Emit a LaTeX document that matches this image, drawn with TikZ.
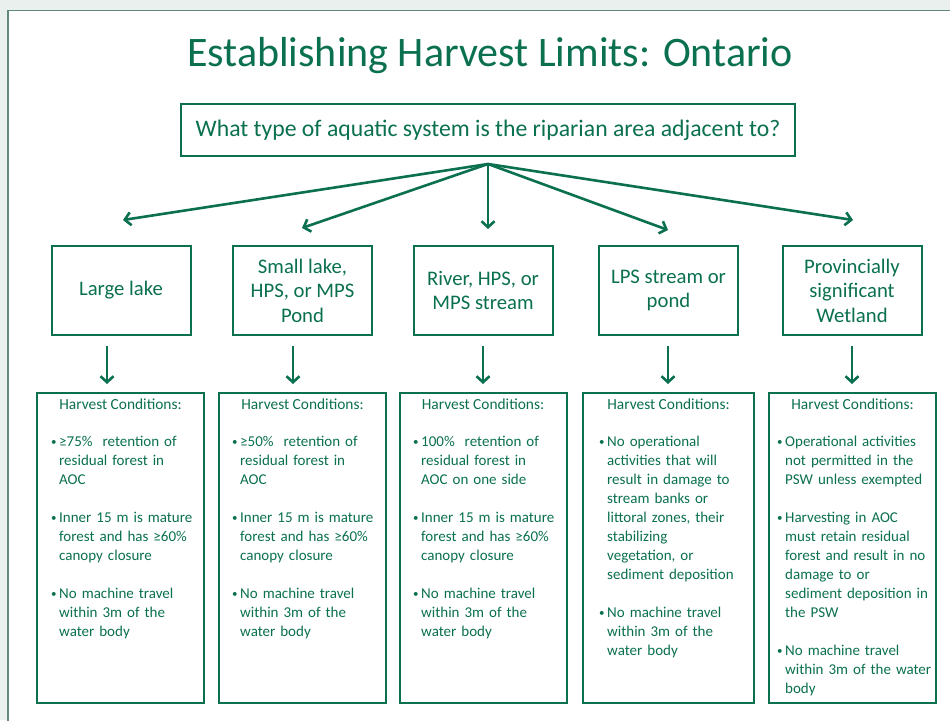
\documentclass[tikz,border=0pt]{standalone}
\usepackage{fontspec}
\setmainfont{Carlito}
\usetikzlibrary{arrows.meta}
\definecolor{grn}{RGB}{10,112,80}
\definecolor{bgc}{RGB}{234,240,237}
\definecolor{frm}{RGB}{98,138,120}
\newcommand{\lbr}{\hfil\break}
\newcommand{\bul}[1]{\par\hangindent=8pt\hangafter=1\noindent\makebox[8pt][l]{\raisebox{0.5pt}{\fontsize{11}{11}\selectfont •}}#1\par}
\newcommand{\gap}{\vspace{19pt}}
\tikzset{
  box/.style={draw=grn, line width=2pt, text=grn, inner sep=0pt},
  midbox/.style={box, minimum width=139pt, minimum height=89pt, align=center, font=\fontsize{20.7}{24.5}\selectfont},
  botbox/.style={box, minimum width=167pt, minimum height=310pt},
  hdr/.style={text=grn, inner sep=0pt, font=\fontsize{15.4}{19}\selectfont},
  lst/.style={text=grn, inner sep=0pt, anchor=north west, text width=175pt, align=left, font=\fontsize{15}{19}\selectfont},
  arr/.style={draw=grn, line width=2.6pt, -{Straight Barb[length=6pt,width=13pt]}}
}
\begin{document}
\begin{tikzpicture}[x=1pt,y=-1pt]
\useasboundingbox (0,0) rectangle (950,720);
\fill[bgc] (0,0) rectangle (950,720);
\begin{scope}
\clip (0,0) rectangle (950,720);
\draw[frm, line width=1.5pt, fill=white] (8,10.5) rectangle (990,760);
\end{scope}

\node[text=grn, inner sep=0pt, font=\fontsize{42}{50}\selectfont] (title) at (490,56) {Establishing Harvest Limits: Ontario};

\node[box, minimum width=614pt, minimum height=52pt, font=\fontsize{23.7}{28}\selectfont] (q) at (488,130) {What type of aquatic system is the riparian area adjacent to?};

% middle boxes
\node[midbox] (m1) at (121,290.5) {Large lake};
\node[midbox] (m2) at (302.5,290.5) {Small lake,\\HPS, or MPS\\Pond};
\node[midbox] (m3) at (483,290.5) {River, HPS, or\\MPS stream};
\node[midbox] (m4) at (668.5,290.5) {LPS stream or\\pond};
\node[midbox] (m5) at (852,290.5) {Provincially\\significant\\Wetland};

% arrows from question
\coordinate (hub) at (488,164);
\coordinate (t1) at (123,220);
\coordinate (t2) at (302,228);
\coordinate (t3) at (488,229);
\coordinate (t4) at (668,230);
\coordinate (t5) at (853,220);
\foreach \t in {t1,t2,t3,t4,t5} \draw[arr] (hub) -- (\t);

% bottom boxes
\node[botbox] (b1) at (120.5,548) {};
\node[botbox] (b2) at (302.5,548) {};
\node[botbox] (b3) at (483,548) {};
\node[botbox, minimum width=171pt] (b4) at (668.5,548) {};
\node[botbox] (b5) at (852.5,548) {};

% down arrows
\coordinate (d1a) at (107,346); \coordinate (d1b) at (107,384);
\coordinate (d2a) at (293,346); \coordinate (d2b) at (293,384);
\coordinate (d3a) at (483,346); \coordinate (d3b) at (483,384);
\coordinate (d4a) at (668,346); \coordinate (d4b) at (668,384);
\coordinate (d5a) at (852,346); \coordinate (d5b) at (852,384);
\foreach \i in {1,...,5} \draw[arr] (d\i a) -- (d\i b);

% headers
\foreach \i in {1,...,5} \node[hdr] (h\i) at ([yshift=-12pt]b\i.north) {Harvest Conditions:};

% lists
\node[lst] (l1) at (51,427) {%
\bul{≥75\%\ \ retention of\lbr residual forest in\lbr AOC}\gap
\bul{Inner 15 m is mature\lbr forest and has ≥60\%\lbr canopy closure}\gap
\bul{No machine travel\lbr within 3m of the\lbr water body}};

\node[lst] (l2) at (232,427) {%
\bul{≥50\%\ \ retention of\lbr residual forest in\lbr AOC}\gap
\bul{Inner 15 m is mature\lbr forest and has ≥60\%\lbr canopy closure}\gap
\bul{No machine travel\lbr within 3m of the\lbr water body}};

\node[lst] (l3) at (413,427) {%
\bul{100\%\ \ retention of\lbr residual forest in\lbr AOC on one side}\gap
\bul{Inner 15 m is mature\lbr forest and has ≥60\%\lbr canopy closure}\gap
\bul{No machine travel\lbr within 3m of the\lbr water body}};

\node[lst] (l4) at (599,427) {%
\bul{No operational\lbr activities that will\lbr result in damage to\lbr stream banks or\lbr littoral zones, their\lbr stabilizing\lbr vegetation, or\lbr sediment deposition}\gap
\bul{No machine travel\lbr within 3m of the\lbr water body}};

\node[lst] (l5) at (777,427) {%
\bul{Operational activities\lbr not permitted in the\lbr PSW unless exempted}\gap
\bul{Harvesting in AOC\lbr must retain residual\lbr forest and result in no\lbr damage to or\lbr sediment deposition in\lbr the PSW}\gap
\bul{No machine travel\lbr within 3m of the water\lbr body}};
\end{tikzpicture}
\end{document}
